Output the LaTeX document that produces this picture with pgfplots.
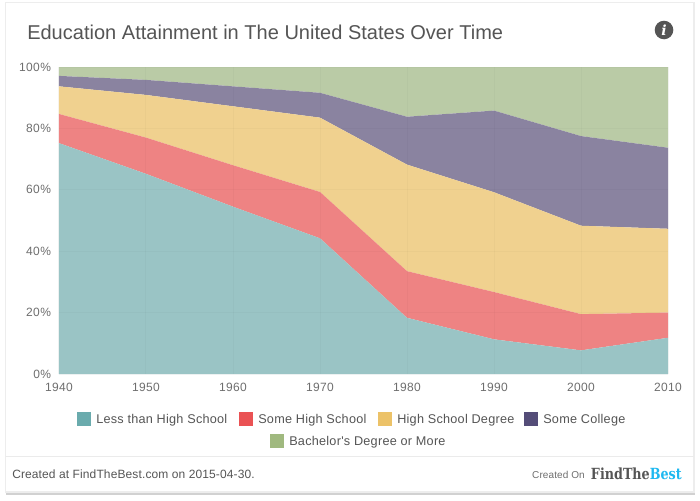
\documentclass[border=0pt]{standalone}
\usepackage{pgfplots}
\pgfplotsset{compat=1.18}
\usepackage{pgfplotstable}
\usepackage{fontspec}
\setmainfont{Liberation Sans}
\newfontfamily\ls[LetterSpace=2]{Liberation Sans}
\newfontfamily\fs[LetterSpace=1]{Liberation Sans}
\newfontfamily\tkf[LetterSpace=3]{Liberation Sans}
\newfontfamily\tl[LetterSpace=0.1]{Liberation Sans}
\newfontfamily\logo{DejaVu Serif}
\definecolor{txt}{HTML}{555555}
\definecolor{tick}{HTML}{6E6E6E}
\definecolor{aA}{HTML}{9AC4C5}
\definecolor{aB}{HTML}{EE8383}
\definecolor{aC}{HTML}{F0D18F}
\definecolor{aD}{HTML}{8A83A0}
\definecolor{aE}{HTML}{BACBA6}
\definecolor{lA}{HTML}{6AABAD}
\definecolor{lB}{HTML}{EA5254}
\definecolor{lC}{HTML}{ECC268}
\definecolor{lD}{HTML}{544D78}
\definecolor{lE}{HTML}{A0B97F}
\pgfplotstableread{
year less some hs college bach
1940 75.2 9.5 9.0 3.4 2.9
1950 65.2 11.8 13.9 4.9 4.2
1960 54.5 13.5 19.2 6.5 6.3
1970 44.2 15.1 24.2 8.1 8.4
1980 18.3 15.2 34.7 15.6 16.2
1990 11.3 15.4 32.5 26.6 14.2
2000 7.7 11.8 28.8 29.2 22.5
2010 11.8 8.2 27.3 26.4 26.3
}\edu
\begin{document}
\begin{tikzpicture}[x=0.75pt,y=-0.75pt]
\fill[white] (0,0) rectangle (700,500);
% card
\fill[black!18] (6,490) rectangle (695,494.5);
\fill[white,draw=black!7,line width=1.1pt] (5.5,2.5) rectangle (694,492);
\draw[black!8,line width=0.75pt] (5.5,456.5) -- (694,456.5);
% title
\node[anchor=base west,inner sep=0pt,text=txt,font={\tl\fontsize{15}{18}\selectfont}] at (27,39) {Education Attainment in The United States Over Time};
% info
\fill[txt] (664,30) circle (9.3);
\node[text=white,inner sep=0pt,font={\logo\bfseries\itshape\fontsize{10.5}{12}\selectfont}] at (664,30) {i};
\begin{axis}[
  at={(44.25pt,-280.5pt)},anchor=south west,
  scale only axis,width=456.75pt,height=230.25pt,
  xmin=1940,xmax=2010,ymin=0,ymax=100,
  stack plots=y,area style,
  axis on top,
  axis line style={draw=none},
  major tick length=0pt,
  xtick={1940,1950,1960,1970,1980,1990,2000,2010},
  xticklabels={1940,1950,1960,1970,1980,1990,2000,2010},
  ytick={0,20,40,60,80,100},
  yticklabels={0\%,20\%,40\%,60\%,80\%,100\%},
  tick label style={text=tick,font={\tkf\fontsize{9}{11}\selectfont}},
  xticklabel style={yshift=-3.2pt},
  yticklabel style={xshift=-2.5pt},
  grid=major,
  grid style={black,opacity=0.025,line width=0.75pt},
]
\addplot[fill=aA,draw=none] table[x=year,y=less]{\edu} \closedcycle;
\addplot[fill=aB,draw=none] table[x=year,y=some]{\edu} \closedcycle;
\addplot[fill=aC,draw=none] table[x=year,y=hs]{\edu} \closedcycle;
\addplot[fill=aD,draw=none] table[x=year,y=college]{\edu} \closedcycle;
\addplot[fill=aE,draw=none] table[x=year,y=bach]{\edu} \closedcycle;
\end{axis}
% legend
\tikzset{lg/.style={anchor=base west,inner sep=0pt,text=txt,font={\ls\fontsize{9.5}{12}\selectfont}}}
\fill[lA] (77,412) rectangle (91,426); \node[lg] at (96,423.5) {Less than High School};
\fill[lB] (239,412) rectangle (253,426); \node[lg] at (258,423.5) {Some High School};
\fill[lC] (378,412) rectangle (392,426); \node[lg] at (397,423.5) {High School Degree};
\fill[lD] (524,412) rectangle (538,426); \node[lg] at (543,423.5) {Some College};
\fill[lE] (270,434) rectangle (284,448); \node[lg] at (289,445.5) {Bachelor's Degree or More};
% footer
\node[anchor=base west,inner sep=0pt,text=txt,font={\fs\fontsize{9}{11}\selectfont}] at (12,478) {Created at FindTheBest.com on 2015-04-30.};
\node[anchor=base east,inner sep=0pt,text=tick,font={\fs\fontsize{7.5}{9}\selectfont}] at (585,478.5) {Created On};
\node[anchor=base east,inner sep=0pt,font={\logo\bfseries\fontsize{11.5}{13}\selectfont}] at (682,479) {\scalebox{0.83}[1]{\textcolor{txt}{FindThe}\textcolor[HTML]{1DB8F0}{Best}}};
\end{tikzpicture}
\end{document}
